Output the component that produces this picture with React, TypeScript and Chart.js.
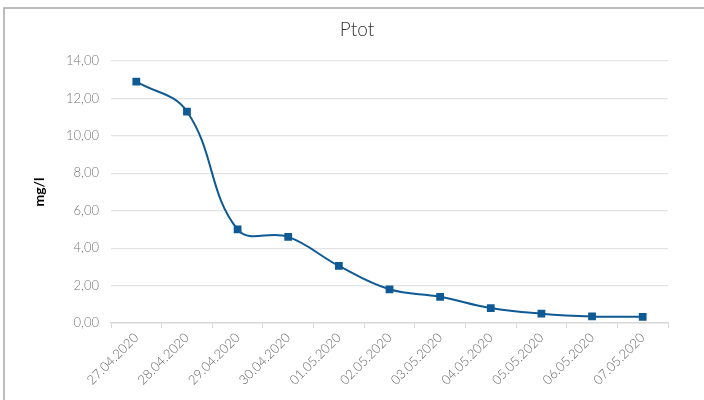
import React, { useEffect, useRef } from "react";
import { Chart, registerables } from "chart.js";

Chart.register(...registerables);

const categories = [
  "27.04.2020", "28.04.2020", "29.04.2020", "30.04.2020", "01.05.2020", "02.05.2020",
  "03.05.2020", "04.05.2020", "05.05.2020", "06.05.2020", "07.05.2020",
];
const ptotValues = [12.9, 11.3, 5.0, 4.6, 3.05, 1.8, 1.4, 0.8, 0.5, 0.35, 0.33];
const chartTitle = "Ptot";
const yAxisTitle = "mg/l";
const yMin = 0;
const yMax = 14;
const yStep = 2;

const FONT = "Lato, 'Open Sans', sans-serif";

const framePlugin = {
  id: "frameAndTitle",
  beforeDraw(chart: any) {
    const ctx = chart.ctx;
    ctx.save();
    ctx.strokeStyle = "#a8a8a8";
    ctx.lineWidth = 1.5;
    ctx.beginPath();
    ctx.moveTo(4, 400);
    ctx.lineTo(4, 8);
    ctx.lineTo(704, 8);
    ctx.stroke();
    ctx.fillStyle = "#333";
    ctx.font = `300 19px ${FONT}`;
    ctx.textAlign = "center";
    ctx.textBaseline = "middle";
    ctx.fillText(chartTitle, 357, 30);
    ctx.restore();
  },
};

export default function App() {
  const canvasRef = useRef<HTMLCanvasElement | null>(null);

  useEffect(() => {
    document.body.style.margin = "0";
    const canvas = canvasRef.current;
    if (!canvas) return;
    const chart = new Chart(canvas, {
      type: "line",
      data: {
        labels: categories,
        datasets: [
          {
            label: chartTitle,
            data: ptotValues,
            borderColor: "#0f5a94",
            backgroundColor: "#0f5a94",
            borderWidth: 2,
            tension: 0.4,
            pointStyle: "rect",
            pointRadius: 5.5,
            pointBorderWidth: 0,
            pointBackgroundColor: "#0f5a94",
            fill: false,
          },
        ],
      },
      options: {
        responsive: false,
        animation: false,
        layout: { padding: { left: 0, top: 61, right: 36, bottom: 0 } },
        plugins: {
          legend: { display: false },
          title: { display: false },
          tooltip: { enabled: false },
        },
        scales: {
          x: {
            type: "category",
            offset: true,
            grid: {
              display: true,
              drawOnChartArea: false,
              drawTicks: true,
              tickLength: 5,
              color: "#d9d9d9",
              offset: true,
            },
            border: { display: true, color: "#d9d9d9", width: 1.5 },
            ticks: {
              autoSkip: false,
              maxRotation: 45,
              minRotation: 45,
              color: "#666",
              padding: 2,
              font: { family: FONT, size: 13, weight: "300" as any },
            },
            afterFit(scale: any) {
              scale.height = 77;
            },
          },
          y: {
            min: yMin,
            max: yMax,
            grid: { color: "#e3e3e3", drawTicks: false, lineWidth: 1.2 },
            border: { display: false },
            ticks: {
              stepSize: yStep,
              color: "#777",
              padding: 12,
              font: { family: FONT, size: 13, weight: "300" as any },
              callback: (v: any) => Number(v).toFixed(2).replace(".", ","),
            },
            title: {
              display: true,
              text: yAxisTitle,
              color: "#000",
              font: { family: FONT, size: 14, weight: "bold" },
              padding: { top: 31, bottom: 0 },
            },
            afterFit(scale: any) {
              scale.width = 111;
            },
          },
        },
      },
      plugins: [framePlugin],
    });
    return () => chart.destroy();
  }, []);

  return (
    <div style={{ width: 704, height: 400 }}>
      <canvas ref={canvasRef} width={704} height={400} style={{ display: "block" }} />
    </div>
  );
}
